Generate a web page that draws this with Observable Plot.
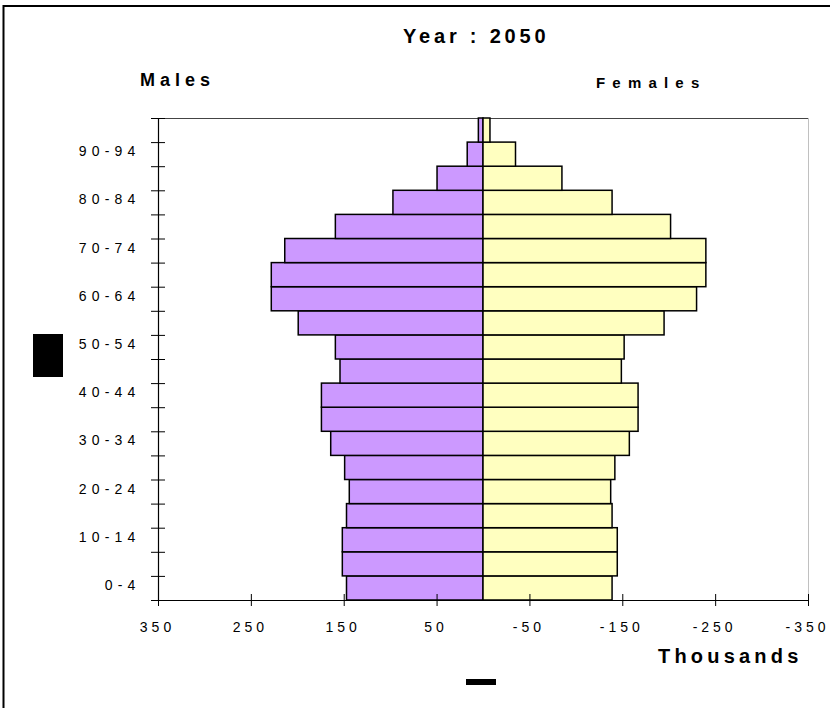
<!DOCTYPE html>
<html>
<head>
<meta charset="utf-8">
<script src="https://cdn.jsdelivr.net/npm/d3@7"></script>
<script src="https://cdn.jsdelivr.net/npm/@observablehq/plot@0.6"></script>
<style>
  html, body { margin: 0; padding: 0; background: #fff; }
  #chart { width: 830px; height: 708px; }
</style>
</head>
<body>
<div id="chart"></div>
<script>
// Age groups, bottom to top
const ages = ["0-4","5-9","10-14","15-19","20-24","25-29","30-34","35-39","40-44","45-49",
              "50-54","55-59","60-64","65-69","70-74","75-79","80-84","85-89","90-94","95-99"];
// Thousands
const males   = [147, 151.5, 151.5, 147, 144, 149, 164, 174, 174, 154,
                 159, 199, 228, 228, 213.5, 159, 97, 49.5, 17, 5];
const females = [139, 144.6, 144.6, 139, 137.5, 142, 157.6, 167, 167, 149,
                 152, 195, 230, 240, 240, 202, 139, 85, 35, 7.5];
const xTicks = [350, 250, 150, 50, -50, -150, -250, -350];
const title = "Year : 2050";
const leftLabel = "Males";
const rightLabel = "Females";
const xLabel = "Thousands";

const rows = ages.map((a, i) => ({age: a, i, m: males[i], f: females[i]}));
const labelIdx = d3.range(0, 20, 2).map(i => i + 0.5);

const font = "'Liberation Sans', Arial, sans-serif";

const chart = Plot.plot({
  width: 830,
  height: 708,
  marginLeft: 158,
  marginRight: 22,
  marginTop: 118,
  marginBottom: 108,
  style: {fontFamily: font, fontSize: "14px", background: "white", color: "black"},
  x: {domain: [-350, 350], reverse: true, label: null},
  y: {domain: [0, 20], label: null},
  marks: [
    Plot.ruleY([20], {stroke: "#444", strokeWidth: 1}),
    Plot.ruleX([-350], {stroke: "#c0c0c0", strokeWidth: 1}),
    Plot.rect(rows, {x1: 0, x2: "m", y1: "i", y2: d => d.i + 1,
      fill: "#CC99FF", stroke: "black", strokeWidth: 1.5}),
    Plot.rect(rows, {x1: 0, x2: d => -d.f, y1: "i", y2: d => d.i + 1,
      fill: "#FFFFC0", stroke: "black", strokeWidth: 1.5}),
    Plot.ruleX([350], {stroke: "black", strokeWidth: 1.2}),
    Plot.ruleY([0], {stroke: "black", strokeWidth: 1.2}),
    Plot.axisY({ticks: d3.range(0, 21), tickSize: 14, dx: 7, tickFormat: () => "", label: null}),
    Plot.axisY({ticks: labelIdx, tickSize: 0, tickPadding: 18, dy: -3, fontSize: 14,
      tickFormat: d => ages[Math.floor(d)], label: null}),
    Plot.axisX({ticks: xTicks, tickSize: 12, dy: -6, tickFormat: () => "", label: null}),
    Plot.axisX({ticks: xTicks, tickSize: 0, tickPadding: 22, dx: -1, fontSize: 14,
      tickFormat: d => String(d), label: null})
  ]
});

document.getElementById("chart").appendChild(chart);
const svg = d3.select(chart);
svg.selectAll("g[aria-label='x-axis tick label'] text")
  .attr("letter-spacing", "4px");
svg.selectAll("g[aria-label='y-axis tick label'] text")
  .attr("letter-spacing", "5.2px");

// Outer border
svg.append("rect").attr("x", 3.5).attr("y", 6).attr("width", 900).attr("height", 800)
  .attr("fill", "none").attr("stroke", "black").attr("stroke-width", 2);

const addText = (txt, x, y, size, ls) => svg.append("text")
  .attr("x", x).attr("y", y).attr("text-anchor", "start")
  .attr("font-family", font).attr("font-weight", "bold")
  .attr("font-size", size).attr("letter-spacing", ls + "px").attr("fill", "black").text(txt);

addText(title, 403, 43, 20, 3.8);
addText(leftLabel, 140, 86, 18, 5);
addText(rightLabel, 596, 87.5, 15, 7.2);
addText(xLabel, 658, 663, 20, 4.2);

// Black blocks present in the reference
svg.append("rect").attr("x", 33).attr("y", 334).attr("width", 30).attr("height", 43).attr("fill", "black");
svg.append("rect").attr("x", 466).attr("y", 679).attr("width", 30).attr("height", 6).attr("fill", "black");
</script>
</body>
</html>
